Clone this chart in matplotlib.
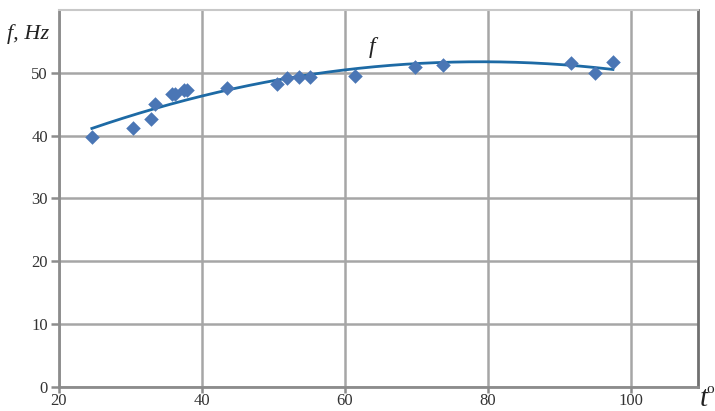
import numpy as np
import matplotlib
matplotlib.use("Agg")
import matplotlib.pyplot as plt

# ===== data =====
t_deg = [24.6, 30.4, 32.9, 33.5, 35.8, 36.3, 37.5, 37.9, 43.5, 50.5,
         51.9, 53.6, 55.1, 61.4, 69.8, 73.7, 91.6, 95.0, 97.5]
f_hz = [39.8, 41.2, 42.6, 45.0, 46.7, 46.7, 47.2, 47.3, 47.6, 48.3,
        49.2, 49.4, 49.3, 49.5, 51.0, 51.2, 51.6, 49.9, 51.7]

x_ticks = [20, 40, 60, 80, 100]
y_ticks = [0, 10, 20, 30, 40, 50]

plt.rcParams["font.family"] = ["Liberation Serif", "DejaVu Serif"]

fig = plt.figure(figsize=(7.15, 4.11), dpi=100)
ax = fig.add_axes([0.0825, 0.0584, 0.8937, 0.9173])

# quadratic trend line (as in the spreadsheet chart)
coef = np.polyfit(t_deg, f_hz, 2)
xs = np.linspace(min(t_deg), max(t_deg), 200)
ax.plot(xs, np.polyval(coef, xs), color="#1d6aa5", lw=2.0, zorder=3)

ax.scatter(t_deg, f_hz, marker="D", s=55, color="#4a76b5", zorder=4,
           linewidths=0)

ax.set_xlim(20, 109.4)
ax.set_ylim(0, 60)
ax.set_xticks(x_ticks)
ax.set_yticks(y_ticks)
ax.grid(True, color="#a6a6a6", lw=1.8)
ax.set_axisbelow(True)

for side in ["left", "bottom", "right"]:
    ax.spines[side].set_color("#8c8c8c")
    ax.spines[side].set_linewidth(2.0)
ax.spines["right"].set_color("#707070")
ax.spines["top"].set_color("#c8c8c8")
ax.spines["top"].set_linewidth(1.5)

ax.tick_params(axis="both", labelsize=12, color="#8c8c8c", width=1.8,
               direction="out", colors="#333333")
ax.tick_params(axis="y", pad=2, length=6)
ax.tick_params(axis="x", pad=0, length=4)

fig.text(0.01, 0.905, "f, Hz", fontsize=16, style="italic", color="#222222")
ax.text(0.485, 0.885, "f", transform=ax.transAxes, fontsize=17,
        style="italic", color="#222222")
fig.text(0.978, 0.012, "t", fontsize=21, style="italic", color="#222222")
fig.text(0.988, 0.045, "o", fontsize=11, color="#222222")

plt.savefig("out.png", dpi=100)
